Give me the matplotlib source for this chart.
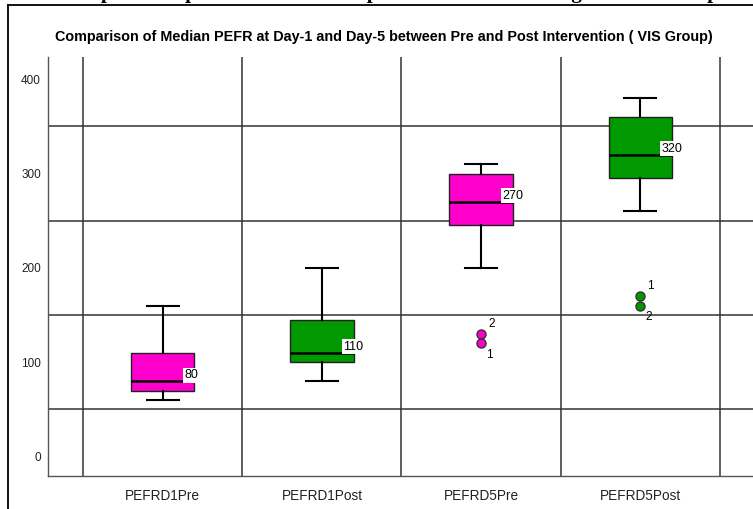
import matplotlib
matplotlib.use("Agg")
import matplotlib.pyplot as plt
from matplotlib.lines import Line2D

categories = ["PEFRD1Pre", "PEFRD1Post", "PEFRD5Pre", "PEFRD5Post"]
whislo = [60, 80, 200, 260]
q1 = [70, 100, 245, 295]
med = [80, 110, 270, 320]
q3 = [110, 145, 300, 360]
whishi = [160, 200, 310, 380]
fliers = [[], [], [130, 120], [170, 160]]
flier_ids = [[], [], ["2", "1"], ["1", "2"]]
colors = ["#ff00cc", "#009900", "#ff00cc", "#009900"]

plt.rcParams['font.family'] = ['Liberation Sans Narrow', 'Liberation Sans', 'DejaVu Sans']

fig = plt.figure(figsize=(7.53, 5.09), dpi=100)
ax = fig.add_axes([48 / 753, 33 / 509, 707 / 753, 419 / 509])

# page frame around the chart
fig.add_artist(Line2D([8 / 753, 1], [1 - 5 / 509, 1 - 5 / 509], color="black", lw=1.3))
fig.add_artist(Line2D([8 / 753, 8 / 753], [0, 1 - 5 / 509], color="black", lw=1.3))

# heading of the page above, cut by the top edge
fig.text(0.52, 1 + 1.5 / 509, "Graphical Representation of Comparison of PEFR among the VIS Group",
         family=["Liberation Serif", "DejaVu Serif"], fontweight="bold", fontsize=15,
         ha="center", va="baseline")

fig.text(0.51, 1 - 37 / 509,
         "Comparison of Median PEFR at Day-1 and Day-5 between Pre and Post Intervention ( VIS Group)",
         fontsize=10.4, fontweight="bold", ha="center", va="center")

for y in [50, 150, 250, 350]:
    ax.axhline(y, color="#333333", lw=1.1, zorder=0)
for x in [-0.5, 0.5, 1.5, 2.5, 3.5]:
    ax.axvline(x, color="#333333", lw=1.1, zorder=0)

stats = []
for i in range(len(categories)):
    stats.append({"whislo": whislo[i], "q1": q1[i], "med": med[i], "q3": q3[i],
                  "whishi": whishi[i], "fliers": []})

bp = ax.bxp(stats, positions=range(len(categories)), widths=0.4, patch_artist=True,
            showfliers=False, capwidths=0.2,
            boxprops=dict(edgecolor="#222222", lw=1),
            whiskerprops=dict(color="black", lw=1.5),
            capprops=dict(color="black", lw=1.5),
            medianprops=dict(color="black", lw=1.8))
for patch, c in zip(bp["boxes"], colors):
    patch.set_facecolor(c)

for i in range(len(categories)):
    ax.text(i + 0.135, med[i], str(med[i]), fontsize=9, ha="left", va="bottom",
            bbox=dict(facecolor="white", edgecolor="none", pad=1.2), zorder=5)
    for j, (v, lab) in enumerate(zip(fliers[i], flier_ids[i])):
        ax.plot(i, v, "o", ms=6.5, mfc=colors[i], mec="#333333", mew=1, zorder=6)
        if j == 0:
            ax.annotate(lab, (i, v), xytext=(5, 3), textcoords="offset points",
                        fontsize=8.5, ha="left", va="bottom")
        else:
            ax.annotate(lab, (i, v), xytext=(3.5, -4), textcoords="offset points",
                        fontsize=8.5, ha="left", va="top")

ax.set_xlim(-0.72, 3.72)
ax.set_ylim(-20.5, 423.5)
ax.set_yticks([0, 100, 200, 300, 400])
ax.set_xticks(range(len(categories)))
ax.set_xticklabels(categories)
ax.tick_params(length=0, colors="#222222")
ax.tick_params(axis="y", pad=5, labelsize=8.5)
ax.tick_params(axis="x", pad=9, labelsize=9.8)
for s in ["top", "right"]:
    ax.spines[s].set_visible(False)
for s in ["left", "bottom"]:
    ax.spines[s].set_color("#555555")
    ax.spines[s].set_linewidth(1)

fig.savefig("out.png", dpi=100)
